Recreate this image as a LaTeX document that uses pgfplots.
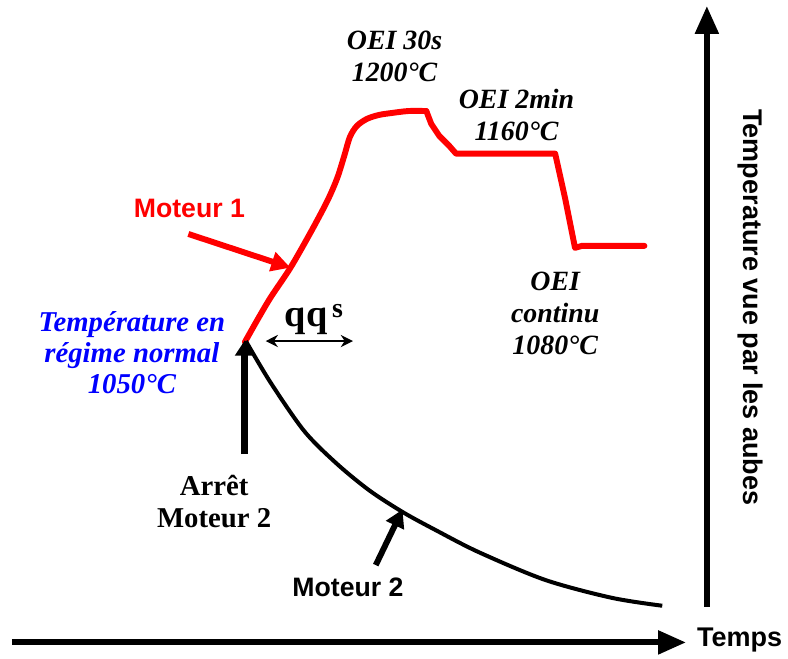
\documentclass[border=0pt]{standalone}
\usepackage{fontspec}
\setmainfont{Liberation Serif}
\setsansfont{Liberation Sans}
\usepackage{pgfplots}
\pgfplotsset{compat=1.18}
\usetikzlibrary{arrows.meta}

\begin{document}
\begin{tikzpicture}
\begin{axis}[
  scale only axis,
  width=15.76cm, height=13.24cm,
  xmin=0, xmax=788, ymin=0, ymax=662,
  y dir=reverse,
  hide axis,
  clip=false,
]
\path (axis cs:0,0) rectangle (axis cs:788,662);

% Moteur 1 (red): rise to OEI 30s, then steps down
\addplot[red, line width=3.4pt, smooth, line cap=round] coordinates {
  (247,345) (260,322) (273,300) (293,270) (313,235) (330,203)
  (340,180) (347,158) (353,138) (360,127) (370,120) (382,116)
  (395,114) (412,112) (430,112)
};
\addplot[red, line width=3.4pt, line join=round, line cap=round] coordinates {
  (430,112) (435,125) (443,137) (453,147) (460,155) (560,155)
  (570,200) (580,250) (587,248) (650,248)
};

% Moteur 2 (black)
\addplot[black, line width=2.3pt, smooth] coordinates {
  (248,344) (273,386) (307,435) (340,468) (373,495) (407,517)
  (440,535) (483,557) (550,585) (617,603) (668,611)
};

% axes
\draw[line width=3.4pt, -{Triangle[length=16pt,width=13pt]}] (axis cs:12,648) -- (axis cs:692,648);
\draw[line width=3.4pt, -{Triangle[length=16pt,width=13pt]}] (axis cs:713,612) -- (axis cs:713,6);
\node[font=\sffamily\bfseries\fontsize{15.5}{17}\selectfont, anchor=west] at (axis cs:697,646) {Temps};
\node[font=\sffamily\bfseries\fontsize{15.5}{17}\selectfont, rotate=-90] at (axis cs:757,310) {Temperature vue par les aubes};

% arrows
\draw[line width=4pt, -{Triangle[length=9pt,width=11pt]}] (axis cs:247,458) -- (axis cs:247,343);
\draw[line width=3.4pt, -{Triangle[length=10pt,width=11pt]}] (axis cs:379,570) -- (axis cs:406,514);
\draw[red, line width=3.4pt, -{Triangle[length=11pt,width=11pt]}] (axis cs:190,236) -- (axis cs:293,270);
\draw[line width=1.4pt, {Stealth[length=7pt,width=7pt]}-{Stealth[length=7pt,width=7pt]}] (axis cs:268,344) -- (axis cs:356,344);

% labels
\node[red, font=\sffamily\bfseries\fontsize{15.3}{17}\selectfont] at (axis cs:191,210) {Moteur 1};
\node[font=\sffamily\bfseries\fontsize{15.3}{17}\selectfont] at (axis cs:351,592) {Moteur 2};
\node[font=\bfseries\fontsize{16.5}{18}\selectfont, align=center] at (axis cs:216,506) {Arrêt\\Moteur 2};
\node[font=\bfseries\fontsize{22}{24}\selectfont, anchor=base west] at (axis cs:281,329) {qq\raisebox{5pt}{\fontsize{16}{18}\selectfont\,s}};
\node[blue, font=\bfseries\itshape\fontsize{16.5}{17.8}\selectfont, align=center] at (axis cs:133,356) {Température en\\régime normal\\1050°C};
\node[font=\bfseries\itshape\fontsize{16}{18.5}\selectfont, align=center] at (axis cs:398,57) {OEI 30s\\1200°C};
\node[font=\bfseries\itshape\fontsize{16}{18.5}\selectfont, align=center] at (axis cs:521,116) {OEI 2min\\1160°C};
\node[font=\bfseries\itshape\fontsize{16}{18.5}\selectfont, align=center] at (axis cs:560,316) {OEI\\continu\\1080°C};
\end{axis}
\end{tikzpicture}
\end{document}
